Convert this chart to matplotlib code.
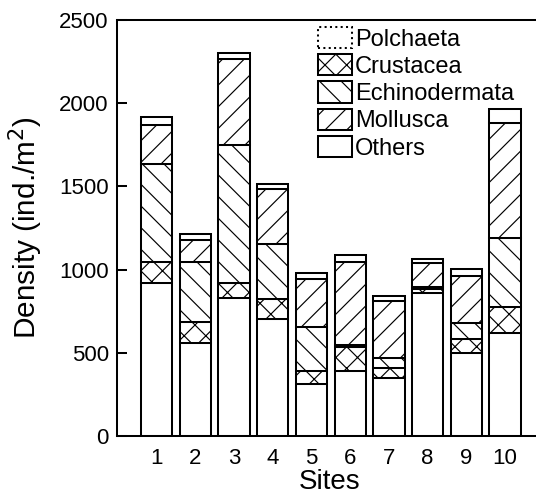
import matplotlib.pyplot as plt
import numpy as np

plt.rcParams['font.family'] = ['Liberation Sans', 'DejaVu Sans']
plt.rcParams['hatch.linewidth'] = 0.65

# Density of each group per site (ind./m^2)
sites = ['1', '2', '3', '4', '5', '6', '7', '8', '9', '10']
others = [918, 561, 828, 701, 313, 391, 347, 858, 501, 617]
crustacea = [130, 122, 90, 122, 78, 141, 63, 24, 80, 156]
echinodermata = [587, 365, 831, 331, 262, 13, 57, 15, 96, 419]
mollusca = [234, 130, 515, 330, 289, 503, 344, 141, 285, 687]
polchaeta = [50, 34, 40, 31, 36, 40, 30, 24, 40, 84]

# stacked from the bottom up
layers = [
    ('Others', others, ''),
    ('Crustacea', crustacea, 'xx'),
    ('Echinodermata', echinodermata, '\\\\'),
    ('Mollusca', mollusca, '//'),
    ('Polchaeta', polchaeta, ''),
]

dpi = 130
fig = plt.figure(figsize=(536 / dpi, 498 / dpi), dpi=dpi)
ax = fig.add_axes([117 / 536, 62 / 498, 1 - 117 / 536 + 0.01, 416 / 498])

x = np.arange(1, len(sites) + 1)
bottom = np.zeros(len(sites))
handles = {}
for name, vals, hatch in layers:
    bars = ax.bar(x, vals, width=0.81, bottom=bottom, color='white',
                  edgecolor='black', linewidth=1.12, hatch=hatch, label=name)
    handles[name] = bars
    bottom += np.array(vals)

ax.set_xlim(-0.026, 10.94)
ax.set_ylim(0, 2500)
ax.set_yticks([0, 500, 1000, 1500, 2000, 2500])
ax.set_xticks(x)
ax.set_xticklabels(sites)

ax.tick_params(axis='y', direction='in', length=5.4, width=1.12, labelsize=12.3, pad=4.6)
ax.tick_params(axis='x', length=0, labelsize=12.3, pad=6.9)
for side in ['left', 'top', 'bottom']:
    ax.spines[side].set_linewidth(1.12)
ax.spines['right'].set_visible(False)

ax.set_xlabel('Sites', fontsize=15.4, labelpad=0)
ax.set_ylabel('Density (ind./m$^2$)', fontsize=16.5)
ax.yaxis.set_label_coords(-0.17, 0.5)

order = ['Polchaeta', 'Crustacea', 'Echinodermata', 'Mollusca', 'Others']
leg = ax.legend([handles[n] for n in order], order, loc='upper left',
                bbox_to_anchor=(318 / 536, 1 - 27 / 498),
                bbox_transform=fig.transFigure, frameon=False, fontsize=13.1,
                handlelength=1.45, handleheight=1.0, labelspacing=0.15,
                handletextpad=0.12, borderpad=0, borderaxespad=0)
leg.get_patches()[0].set_linestyle(':')

fig.savefig('out.png', dpi=dpi)
